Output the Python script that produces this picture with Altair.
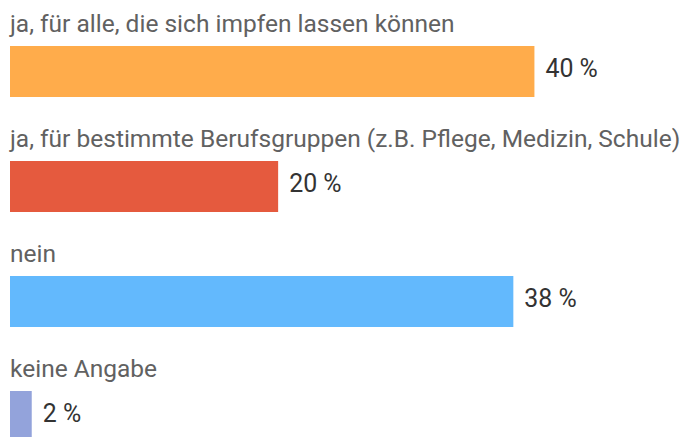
import altair as alt
import pandas as pd

categories = [
    "ja, für alle, die sich impfen lassen können",
    "ja, für bestimmte Berufsgruppen (z.B. Pflege, Medizin, Schule)",
    "nein",
    "keine Angabe",
]
values = [39.8, 20.35, 38.2, 1.65]
value_labels = ["40 %", "20 %", "38 %", "2 %"]
colors = ["#FFAC4B", "#E55A3E", "#63B9FD", "#93A3DB"]

df = pd.DataFrame({
    "cat": categories,
    "value": values,
    "label": value_labels,
    "color": colors,
    "start": [0] * len(categories),
})

y_enc = alt.Y(
    "cat:N",
    sort=categories,
    scale=alt.Scale(paddingInner=0, paddingOuter=0),
    axis=None,
)
x_scale = alt.Scale(domain=[0, 51.0], nice=False, zero=True)

base = alt.Chart(df)

bars = base.mark_bar(size=51, yOffset=6).encode(
    y=y_enc,
    x=alt.X("value:Q", scale=x_scale, axis=None),
    color=alt.Color("color:N", scale=None),
)

cat_text = base.mark_text(
    align="left", baseline="alphabetic", dy=-33.5,
    font="Roboto", fontSize=24.5, color="#616161",
).encode(
    y=y_enc,
    x=alt.X("start:Q", scale=x_scale, axis=None),
    text="cat:N",
)

val_text = base.mark_text(
    align="left", baseline="alphabetic", dx=11, dy=11.5,
    font="Roboto", fontSize=24.9, color="#333333",
).encode(
    y=y_enc,
    x=alt.X("value:Q", scale=x_scale, axis=None),
    text="label:N",
)

chart = alt.layer(bars, cat_text, val_text).properties(
    width=672,
    height=alt.Step(115),
    padding={"left": 2, "top": 0, "right": 0, "bottom": 0},
    autosize="none",
).configure_view(stroke=None)

chart.save("out.html", embed_options={"renderer": "svg", "actions": False})
